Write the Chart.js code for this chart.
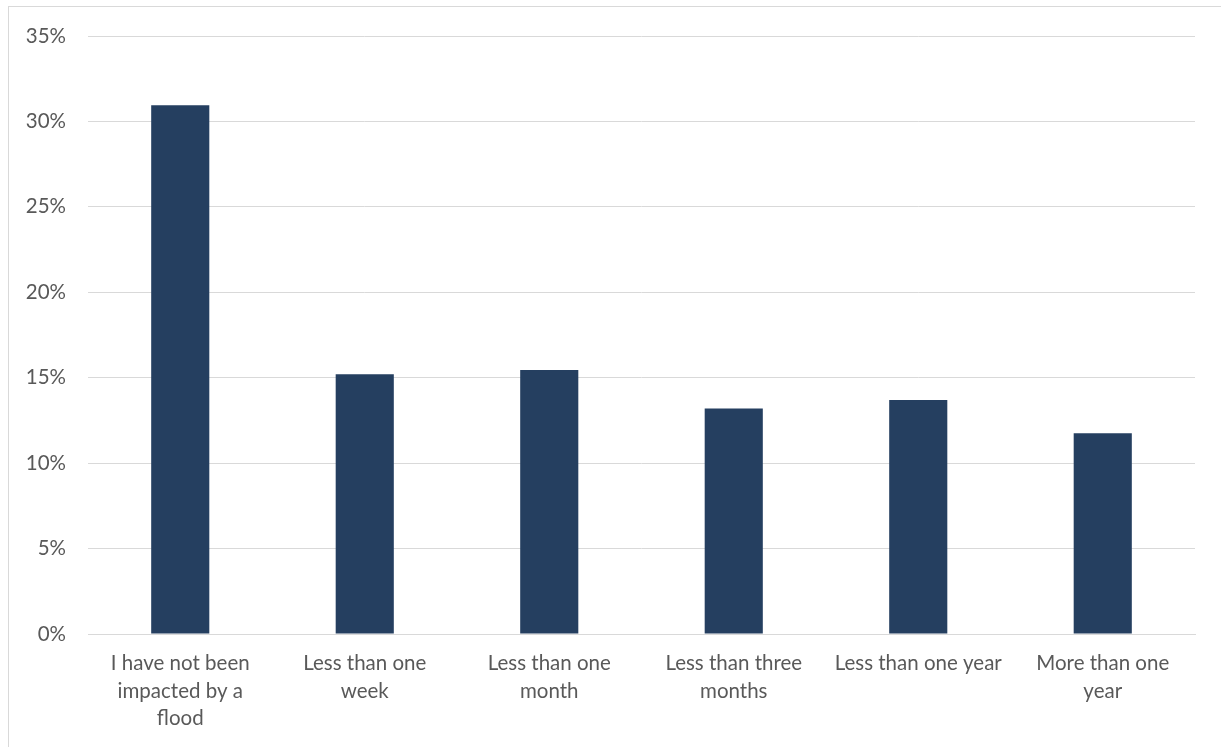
<!DOCTYPE html>
<html>
<head>
<meta charset="utf-8">
<script src="https://cdn.jsdelivr.net/npm/chart.js@4.4.1/dist/chart.umd.min.js"></script>
<style>
  html, body { margin: 0; padding: 0; background: #fff; overflow: hidden; }
  #frame { position: absolute; left: 8px; top: 6px; width: 1300px; height: 800px;
           border-left: 1px solid #d9d9d9; border-top: 1px solid #d9d9d9; }
  #wrap { position: absolute; left: 0; top: 0; width: 1221px; height: 747px; }
</style>
</head>
<body>
<div id="frame"></div>
<div id="wrap"><canvas id="c" width="1221" height="747"></canvas></div>
<script>
// Time out of home after a flood (share of respondents)
const categories = [
  ["I have not been", "impacted by a", "flood"],
  ["Less than one", "week"],
  ["Less than one", "month"],
  ["Less than three", "months"],
  ["Less than one year"],
  ["More than one", "year"]
];
const shares = [30.95, 15.2, 15.45, 13.2, 13.7, 11.75];
const yTicks = [0, 5, 10, 15, 20, 25, 30, 35];

const fontFamily = "Lato, 'Open Sans', sans-serif";
const textColor = '#595959';
const gridColor = '#d9d9d9';

new Chart(document.getElementById('c'), {
  type: 'bar',
  data: {
    labels: categories,
    datasets: [{
      data: shares,
      backgroundColor: '#253f60',
      borderWidth: 0,
      categoryPercentage: 1,
      barPercentage: 0.315
    }]
  },
  options: {
    responsive: false,
    animation: false,
    layout: { padding: { top: 36, right: 26, left: 0, bottom: 0 } },
    plugins: { legend: { display: false }, tooltip: { enabled: false } },
    scales: {
      x: {
        grid: { display: false, drawTicks: false },
        border: { display: true, color: gridColor, width: 1 },
        ticks: {
          color: textColor,
          font: { family: fontFamily, size: 20.5, lineHeight: 1.34 },
          padding: 16,
          maxRotation: 0,
          autoSkip: false
        },
        afterFit: (s) => { s.height = 113; }
      },
      y: {
        min: 0,
        max: 35,
        afterBuildTicks: (s) => { s.ticks = yTicks.map(v => ({ value: v })); },
        grid: { color: gridColor, lineWidth: 1, drawTicks: false },
        border: { display: false },
        ticks: {
          color: textColor,
          font: { family: fontFamily, size: 20.5 },
          padding: 22,
          callback: (v) => v + '%'
        },
        afterFit: (s) => { s.width = 88; }
      }
    }
  }
});
</script>
</body>
</html>
